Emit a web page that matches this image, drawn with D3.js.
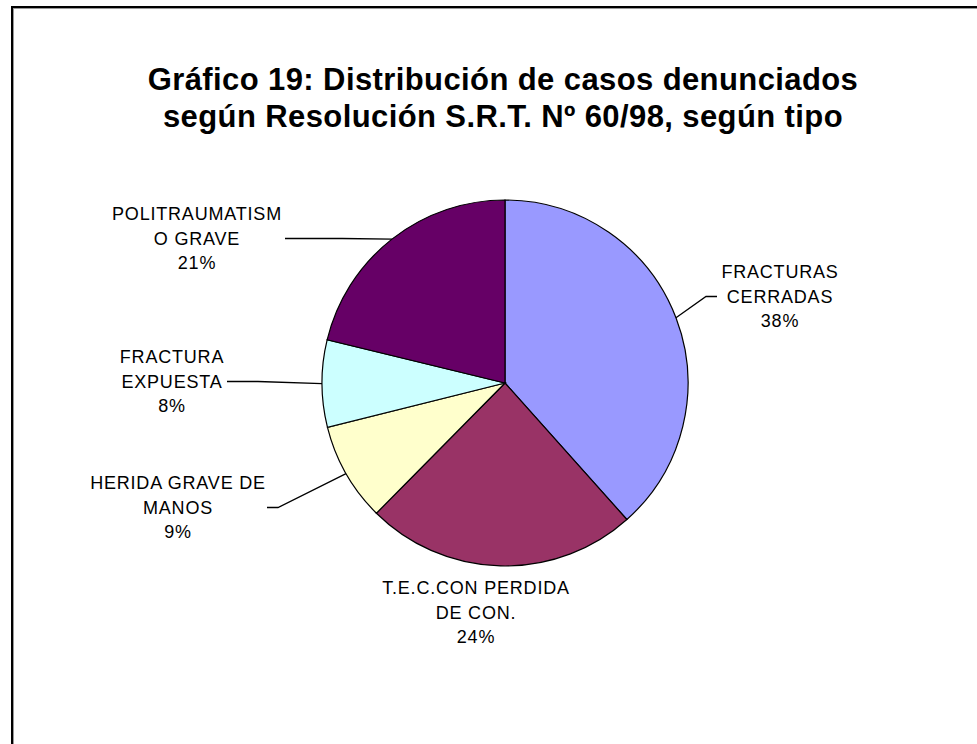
<!DOCTYPE html>
<html>
<head>
<meta charset="utf-8">
<script src="https://cdn.jsdelivr.net/npm/d3@7.9.0/dist/d3.min.js"></script>
<style>
  html, body { margin: 0; padding: 0; background: #fff; }
  svg { display: block; }
</style>
</head>
<body>
<div id="chart"></div>
<script>
// data
const categories = [
    ["FRACTURAS", "CERRADAS"],
    ["T.E.C.CON PERDIDA", "DE CON."],
    ["HERIDA GRAVE DE", "MANOS"],
    ["FRACTURA", "EXPUESTA"],
    ["POLITRAUMATISM", "O GRAVE"]
];
const values = [38.4, 24.0, 8.7, 7.7, 21.2];
const colors = ["#9999ff", "#993366", "#ffffcc", "#ccffff", "#660066"];
const titleLines = [
    "Gráfico 19: Distribución de casos denunciados",
    "según Resolución S.R.T. Nº 60/98, según tipo"
];

// label layout (center x, first line center y, leader end x, leader elbow x)
const labelLayout = [
    { x: 780, y: 272, lx: 717, ex: 706 },
    { x: 476, y: 588, lx: null, ex: null },
    { x: 178, y: 483, lx: 267, ex: 278 },
    { x: 172, y: 357, lx: 227, ex: 258 },
    { x: 197, y: 214, lx: 285, ex: 342 }
];

const W = 977, H = 744;
const cx = 505, cy = 383, r = 183;
const lineGap = 24.5;

const svg = d3.select("#chart").append("svg")
    .attr("width", W)
    .attr("height", H);

// frame (top and left edges only are in view)
svg.append("line").attr("x1", 11).attr("y1", 7).attr("x2", W).attr("y2", 7)
    .attr("stroke", "#000").attr("stroke-width", 2);
svg.append("line").attr("x1", 12).attr("y1", 6).attr("x2", 12).attr("y2", H)
    .attr("stroke", "#000").attr("stroke-width", 2);
svg.append("line").attr("x1", 13).attr("y1", 8.5).attr("x2", W).attr("y2", 8.5)
    .attr("stroke", "#999").attr("stroke-width", 1);
svg.append("line").attr("x1", 13.5).attr("y1", 8).attr("x2", 13.5).attr("y2", H)
    .attr("stroke", "#999").attr("stroke-width", 1);

// title
svg.append("g").selectAll("text")
    .data(titleLines)
    .join("text")
    .attr("x", 503)
    .attr("y", (d, i) => 90 + i * 37)
    .attr("text-anchor", "middle")
    .style("font-family", "'Liberation Sans', Arial, sans-serif")
    .style("font-weight", "bold")
    .style("font-size", "31px")
    .style("letter-spacing", "0.4px")
    .text(d => d);

const pie = d3.pie().sort(null).value(d => d);
const arcs = pie(values);
const arc = d3.arc().innerRadius(0).outerRadius(r);

const g = svg.append("g").attr("transform", `translate(${cx},${cy})`);

g.selectAll("path")
    .data(arcs)
    .join("path")
    .attr("d", arc)
    .attr("fill", (d, i) => colors[i])
    .attr("stroke", "#000")
    .attr("stroke-width", 1.2);

const total = d3.sum(values);

// leader lines: from the slice's mid angle on the rim to the label
arcs.forEach((a, i) => {
    const L = labelLayout[i];
    if (L.lx === null) return;
    const mid = (a.startAngle + a.endAngle) / 2;
    const px = cx + r * Math.sin(mid);
    const py = cy - r * Math.cos(mid);
    const ly = L.y + lineGap;
    svg.append("polyline")
        .attr("points", `${L.lx},${ly} ${L.ex},${ly} ${px},${py}`)
        .attr("fill", "none")
        .attr("stroke", "#000")
        .attr("stroke-width", 1.3);
});

// labels
const labels = svg.append("g")
    .style("font-family", "'Liberation Sans', Arial, sans-serif")
    .style("font-size", "18px")
    .style("letter-spacing", "0.8px");

arcs.forEach((a, i) => {
    const L = labelLayout[i];
    const lines = categories[i].concat([Math.round(values[i] / total * 100) + "%"]);
    labels.append("g").selectAll("text")
        .data(lines)
        .join("text")
        .attr("x", L.x)
        .attr("y", (d, j) => L.y + j * lineGap)
        .attr("dy", "0.36em")
        .attr("text-anchor", "middle")
        .attr("fill", "#000")
        .text(d => d);
});
</script>
</body>
</html>
